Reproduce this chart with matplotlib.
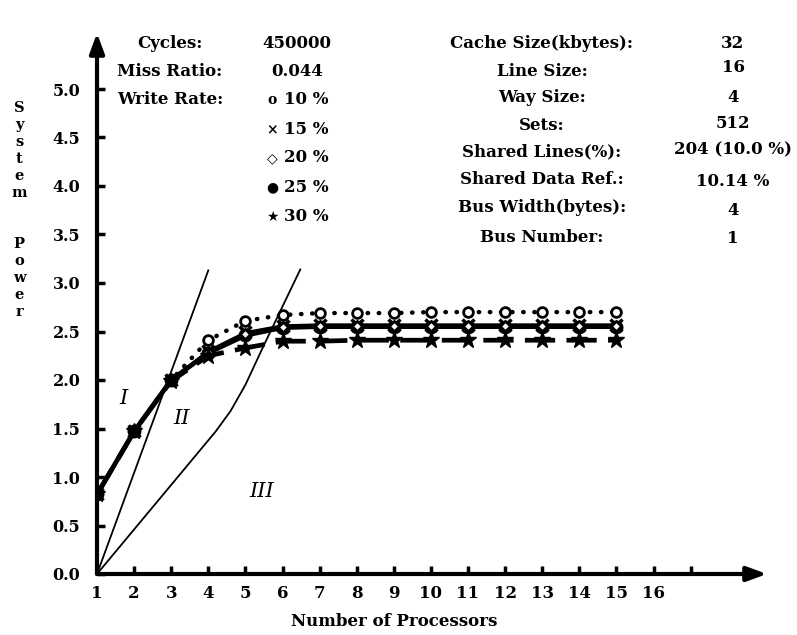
import matplotlib
matplotlib.use("Agg")
import matplotlib.pyplot as plt

# ---------------- data ----------------
processors = list(range(1, 16))
power_wr10 = [0.82, 1.47, 2.00, 2.41, 2.61, 2.67, 2.69, 2.69, 2.69, 2.70, 2.70, 2.70, 2.70, 2.70, 2.70]
power_wr15 = [0.82, 1.47, 2.00, 2.30, 2.49, 2.56, 2.57, 2.57, 2.57, 2.57, 2.57, 2.57, 2.57, 2.57, 2.57]
power_wr20 = [0.82, 1.47, 2.00, 2.29, 2.47, 2.55, 2.56, 2.56, 2.56, 2.56, 2.56, 2.56, 2.56, 2.56, 2.56]
power_wr25 = [0.82, 1.47, 2.00, 2.28, 2.46, 2.54, 2.55, 2.55, 2.55, 2.55, 2.55, 2.55, 2.55, 2.55, 2.55]
power_wr30 = [0.82, 1.47, 1.99, 2.25, 2.33, 2.40, 2.40, 2.41, 2.41, 2.41, 2.41, 2.41, 2.41, 2.41, 2.41]

boundary1_x = [1, 4.0]
boundary1_y = [0, 3.13]
boundary2_x = [1, 4.2, 4.6, 5.0, 5.5, 6.48]
boundary2_y = [0, 1.47, 1.68, 1.95, 2.36, 3.14]
region_names = ["I", "II", "III"]

x_ticks = list(range(1, 18))
x_tick_labels = [str(v) for v in range(1, 17)] + [""]
y_ticks = [0.0, 0.5, 1.0, 1.5, 2.0, 2.5, 3.0, 3.5, 4.0, 4.5, 5.0]
y_tick_labels = ["%.1f" % v for v in y_ticks]

left_labels = ["Cycles:", "Miss Ratio:", "Write Rate:"]
left_values = ["450000", "0.044"]
write_symbols = ["o", "\u00d7", "\u25c7", "\u25cf", "\u2605"]
write_rates = ["10 %", "15 %", "20 %", "25 %", "30 %"]
right_labels = ["Cache Size(kbytes):", "Line Size:", "Way Size:", "Sets:",
                "Shared Lines(%):", "Shared Data Ref.:", "Bus Width(bytes):", "Bus Number:"]
right_values = ["32", "16", "4", "512", "204 (10.0 %)", "10.14 %", "4", "1"]
x_label = "Number of Processors"
y_label_word1 = "System"
y_label_word2 = "Power"

# ---------------- figure ----------------
W, H = 797, 635
fig = plt.figure(figsize=(W / 100, H / 100), dpi=100)
SERIF = ["DejaVu Serif", "DejaVu Sans"]
plt.rcParams["font.family"] = SERIF

def fx(px):
    return px / W

def fy(py):
    return 1 - py / H

ax = fig.add_axes([fx(97), fy(574), 670 / W, 541 / H])
ax.set_xlim(1, 1 + 670 / 37.1)
ax.set_ylim(0, 541 / 97)
for s in ax.spines.values():
    s.set_visible(False)

# axes with arrows
arrow_kw = dict(arrowstyle="-|>,head_length=0.6,head_width=0.22", lw=3.0, color="black",
                shrinkA=0, shrinkB=0, mutation_scale=20)
ax.annotate("", xy=(1, 0), xytext=(0, 0), xycoords="axes fraction",
            textcoords="axes fraction", arrowprops=arrow_kw, annotation_clip=False)
ax.annotate("", xy=(0, 1), xytext=(0, 0), xycoords="axes fraction",
            textcoords="axes fraction", arrowprops=arrow_kw, annotation_clip=False)

ax.set_xticks(x_ticks)
ax.set_xticklabels(x_tick_labels, fontsize=12, fontweight="bold", family=SERIF)
ax.set_yticks(y_ticks)
ax.set_yticklabels(y_tick_labels, fontsize=11.5, fontweight="bold", family=SERIF)
ax.tick_params(axis="x", direction="in", length=6, width=2.5, pad=8)
ax.tick_params(axis="y", direction="in", length=6, width=2.5, pad=12)

# region boundaries
ax.plot(boundary1_x, boundary1_y, color="black", lw=1.3, zorder=2)
ax.plot(boundary2_x, boundary2_y, color="black", lw=1.3, zorder=2)

# curves
ax.plot(processors, power_wr10, color="black", lw=3.2, linestyle=(0, (0.1, 2.4)),
        dash_capstyle="round", zorder=3)
ax.plot(processors, power_wr15, color="black", lw=2.0, zorder=3)
ax.plot(processors, power_wr20, color="black", lw=2.0, linestyle="-.", zorder=3)
ax.plot(processors, power_wr25, color="black", lw=3.4, zorder=3)
ax.plot(processors, power_wr30, color="black", lw=3.4, linestyle=(0, (6.4, 2.4)), zorder=3)

ax.plot(processors, power_wr10, linestyle="none", marker="o", ms=7, mfc="white", mec="black",
        mew=2.0, zorder=4)
ax.plot(processors, power_wr25, linestyle="none", marker="o", ms=9, color="black", zorder=5)
ax.plot(processors, power_wr15, linestyle="none", marker="x", ms=9, mew=2.5, color="black", zorder=5)
ax.plot(processors, power_wr20, linestyle="none", marker="D", ms=5, mfc="white", mec="black",
        mew=1.8, zorder=6)
ax.plot(processors, power_wr30, linestyle="none", marker="*", ms=12, color="black", zorder=6)

# region labels
ax.text(1.71, 1.81, region_names[0], fontsize=15, style="italic", family=SERIF,
        ha="center", va="center")
ax.text(3.27, 1.60, region_names[1], fontsize=15, style="italic", family=SERIF,
        ha="center", va="center")
ax.text(5.45, 0.85, region_names[2], fontsize=15, style="italic", family=SERIF,
        ha="center", va="center")

tkw = dict(fontsize=12, fontweight="bold", family=SERIF, ha="center", va="center")

# left information block
for lab, py in zip(left_labels, [43, 72, 100]):
    fig.text(fx(170), fy(py), lab, **tkw)
for val, py in zip(left_values, [43, 72]):
    fig.text(fx(297), fy(py), val, **tkw)
for sym, rate, py in zip(write_symbols, write_rates, [100, 129, 158, 187, 217]):
    fig.text(fx(272), fy(py), sym, fontsize=10, family=SERIF, fontweight="bold",
             ha="center", va="center")
    fig.text(fx(306), fy(py), rate, **tkw)

# right information block
for lab, py in zip(right_labels, [43, 71, 97, 125, 152, 180, 208, 237]):
    fig.text(fx(542), fy(py), lab, **tkw)
for val, py in zip(right_values, [43, 67, 97, 123, 150, 182, 210, 239]):
    fig.text(fx(733), fy(py), val, **tkw)

# axis labels
fig.text(fx(394), fy(622), x_label, **tkw)
ykw = dict(fontsize=10.5, fontweight="bold", family=SERIF, ha="center", va="center")
for ch, py in zip(y_label_word1, [108, 125, 142, 159, 176, 193]):
    fig.text(fx(19), fy(py), ch, **ykw)
for ch, py in zip(y_label_word2, [244, 261, 278, 295, 312]):
    fig.text(fx(19), fy(py), ch, **ykw)

fig.savefig("out.png", dpi=100, facecolor="white")
